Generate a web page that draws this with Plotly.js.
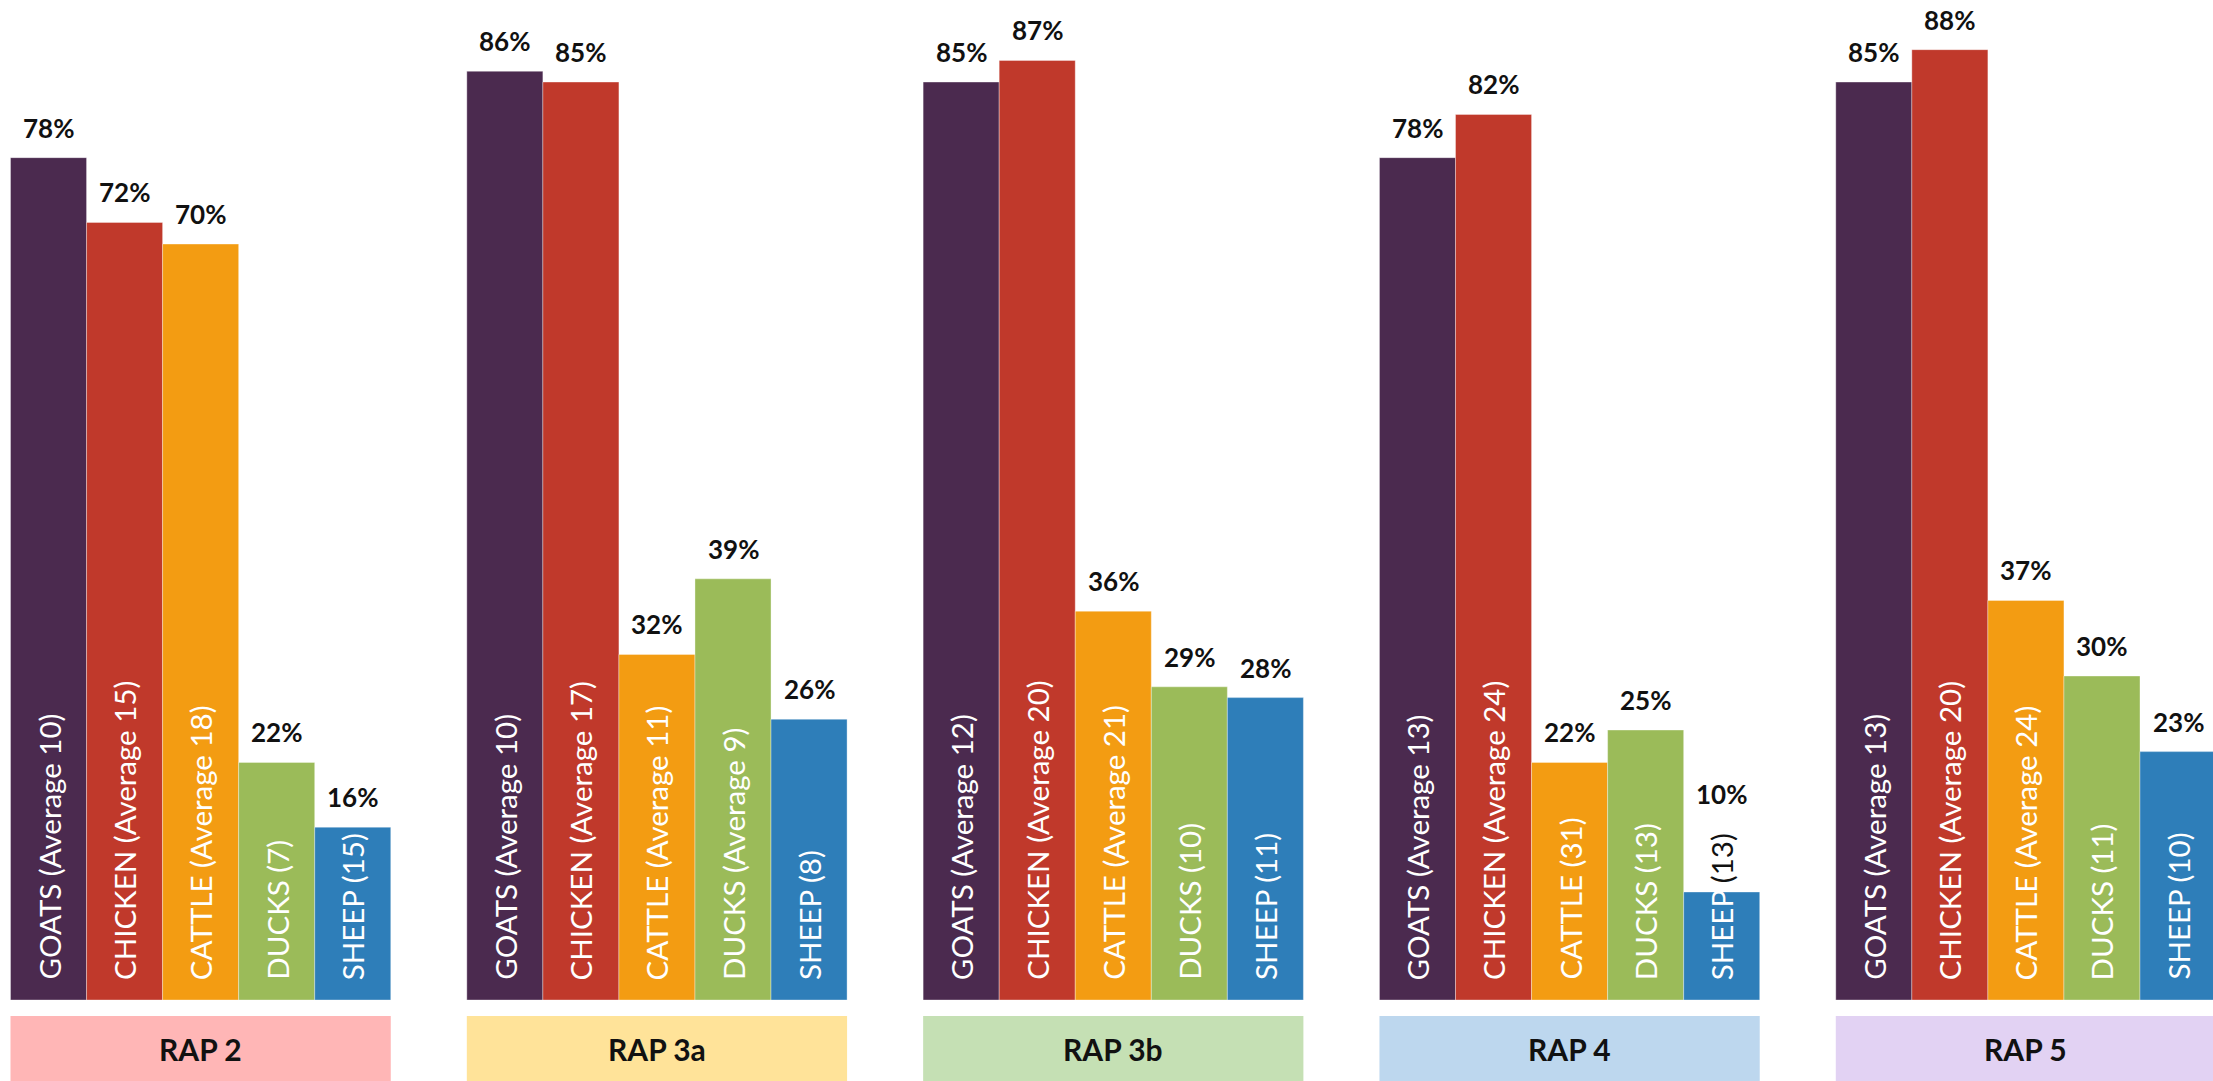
<!DOCTYPE html>
<html>
<head>
<meta charset="utf-8">
<script src="https://cdn.plot.ly/plotly-3.0.1.min.js"></script>
<style>html,body{margin:0;padding:0;background:#fff;}#chart{width:2213px;height:1081px;}</style>
</head>
<body>
<div id="chart"></div>
<script>
// ---- data ----
const groups = ["RAP 2", "RAP 3a", "RAP 3b", "RAP 4", "RAP 5"];
const animals = ["GOATS", "CHICKEN", "CATTLE", "DUCKS", "SHEEP"];
const goats   = [78, 86, 85, 78, 85];
const chicken = [72, 85, 87, 82, 88];
const cattle  = [70, 32, 36, 22, 37];
const ducks   = [22, 39, 29, 25, 30];
const sheep   = [16, 26, 28, 10, 23];
const goatsN   = ["Average 10", "Average 10", "Average 12", "Average 13", "Average 13"];
const chickenN = ["Average 15", "Average 17", "Average 20", "Average 24", "Average 20"];
const cattleN  = ["Average 18", "Average 11", "Average 21", "31", "Average 24"];
const ducksN   = ["7", "Average 9", "10", "13", "11"];
const sheepN   = ["15", "8", "11", "13", "10"];

// ---- styling ----
const barColors = ["#4B2A4F", "#C0392B", "#F39C12", "#9BBB59", "#2E7EB9"];
const boxColors = ["#FFB6B6", "#FFE399", "#C5E0B4", "#BDD7EE", "#E2D2F3"];
const series = [goats, chicken, cattle, ducks, sheep];
const counts = [goatsN, chickenN, cattleN, ducksN, sheepN];
const slot = 6; // 5 bars + 1 gap per group
const yMax = 92.6;
const plotH = 1000;          // plot area height in px
const pxPerUnit = plotH / yMax;
const labelFont = 29.5;
const labelBase = 18;

const traces = [];
const annotations = [];
const shapes = [];

animals.forEach((a, ai) => {
  const xs = groups.map((g, gi) => gi * slot + ai);
  traces.push({
    type: "bar",
    name: a,
    x: xs,
    y: series[ai],
    width: 1,
    marker: {color: barColors[ai], line: {color: "rgba(255,255,255,0.35)", width: 1}},
    hoverinfo: "skip",
    showlegend: false
  });
  xs.forEach((x, gi) => {
    const v = series[ai][gi];
    const countPart = "(" + counts[ai][gi] + ")";
    const plain = a + " " + countPart;
    const estLen = plain.length * labelFont * 0.48;
    const overflow = labelBase + 6 + estLen - v * pxPerUnit;
    const countText = overflow > 0 ? '<span style="color:#111">' + countPart + '</span>' : countPart;
    annotations.push({
      x: x, y: v, xref: "x", yref: "y",
      text: v + "%",
      showarrow: false, xanchor: "center", yanchor: "bottom",
      yshift: overflow > 0 ? overflow + 22 : 12,
      font: {family: "Lato, 'Open Sans', sans-serif", size: 26, color: "#111", weight: 700}
    });
    annotations.push({
      x: x, y: 0, xref: "x", yref: "y",
      text: a + " " + countText,
      textangle: -90,
      showarrow: false, xanchor: "center", yanchor: "bottom", yshift: labelBase,
      font: {family: "Lato, 'Open Sans', sans-serif", size: labelFont, color: "#ffffff"}
    });
  });
});

groups.forEach((g, gi) => {
  shapes.push({
    type: "rect", xref: "x", yref: "paper",
    x0: gi * slot - 0.5, x1: gi * slot + 4.5,
    y0: -0.016, y1: -0.1,
    fillcolor: boxColors[gi], line: {width: 0}, layer: "below"
  });
  annotations.push({
    x: gi * slot + 2, y: -0.049, xref: "x", yref: "paper",
    text: g, showarrow: false, xanchor: "center", yanchor: "middle",
    font: {family: "Lato, 'Open Sans', sans-serif", size: 30, color: "#111", weight: 700}
  });
});

const layout = {
  width: 2213, height: 1081,
  margin: {l: 0, r: 0, t: 0, b: 81, pad: 0},
  paper_bgcolor: "#ffffff", plot_bgcolor: "#ffffff",
  barmode: "group", bargap: 0,
  xaxis: {range: [-0.638, 28.46], showgrid: false, zeroline: false, showticklabels: false, ticks: "", showline: false, fixedrange: true},
  yaxis: {range: [0, yMax], showgrid: false, zeroline: false, showticklabels: false, ticks: "", showline: false, fixedrange: true},
  annotations: annotations,
  shapes: shapes,
  showlegend: false
};

Plotly.newPlot("chart", traces, layout, {displayModeBar: false, staticPlot: true});
</script>
</body>
</html>
